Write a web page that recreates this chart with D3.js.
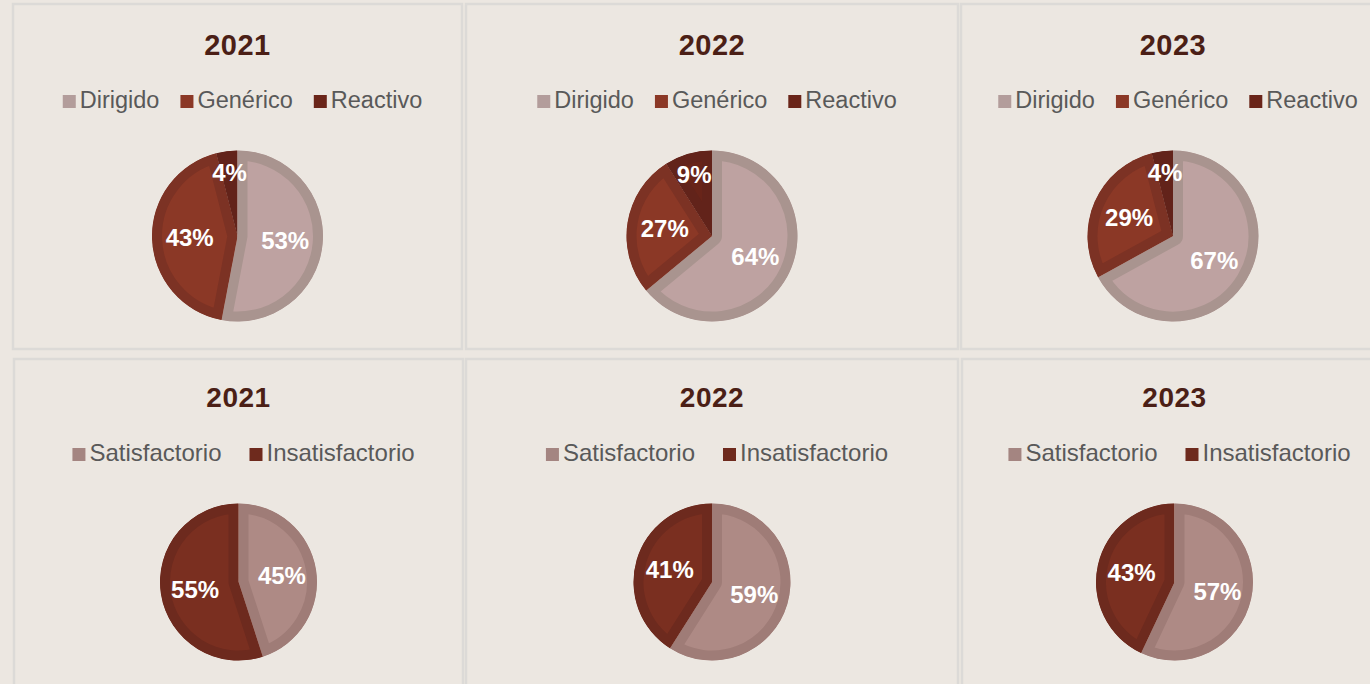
<!DOCTYPE html>
<html lang="es">
<head>
    <meta charset="UTF-8">
    <title>Pies 2021-2023</title>
    <style>
        body { margin: 0; background: #ece7e1; }
        svg { display: block; font-family: "Liberation Sans", Arial, sans-serif; }
    </style>
    <script src="https://d3js.org/d3.v7.min.js"></script>
</head>
<body>
    <svg width="1370" height="684"></svg>
    <script>
        // data
        const years = ["2021", "2022", "2023"];
        const typeCats = ["Dirigido", "Genérico", "Reactivo"];
        const typeVals = [[53, 43, 4], [64, 27, 9], [67, 29, 4]];
        const resultCats = ["Satisfactorio", "Insatisfactorio"];
        const resultVals = [[45, 55], [59, 41], [57, 43]];

        const typeFill = ["#bea2a1", "#8b3826", "#682419"];
        const typeEdge = ["#a9948f", "#7c3224", "#62231a"];
        const typeKey = ["#b39d9b", "#8b3826", "#6a2519"];
        const resultFill = ["#ae8a85", "#7a2f20"];
        const resultEdge = ["#9f7c77", "#6d2a1e"];
        const resultKey = ["#a48581", "#6e2a1d"];

        const svg = d3.select("svg");

        // panel boxes
        const rows = [
            { y: 4, h: 345, xs: [[13, 462], [466, 958], [961, 1385]], cy: 236, r: 85.5,
              titleY: 55, titleSize: 29, legY: 108, legGap: 21, legSize: 23.5, cats: typeCats, vals: typeVals,
              fill: typeFill, edge: typeEdge, key: typeKey },
            { y: 359, h: 340, xs: [[14, 463], [466, 958], [962, 1387]], cy: 582, r: 78.5,
              titleY: 407, titleSize: 28, legY: 461, legGap: 28, legSize: 24, cats: resultCats, vals: resultVals,
              fill: resultFill, edge: resultEdge, key: resultKey }
        ];

        const pie = d3.pie().sort(null).value(d => d);
        let clipId = 0;

        rows.forEach(row => {
            row.xs.forEach((px, i) => {
                const cx = (px[0] + px[1]) / 2;
                svg.append("rect")
                    .attr("x", px[0]).attr("y", row.y)
                    .attr("width", px[1] - px[0]).attr("height", row.h)
                    .attr("fill", "#ece7e1")
                    .attr("stroke", "#dcdad7")
                    .attr("stroke-width", 2.5);

                svg.append("text")
                    .attr("x", cx).attr("y", row.titleY)
                    .attr("text-anchor", "middle")
                    .attr("font-size", row.titleSize)
                    .attr("font-weight", "bold")
                    .attr("letter-spacing", 0.5)
                    .attr("fill", "#4b1f16")
                    .text(years[i]);

                // legend, measured then centred
                const leg = svg.append("g");
                let x = 0;
                row.cats.forEach((c, j) => {
                    leg.append("rect")
                        .attr("x", x).attr("y", row.legY - 13)
                        .attr("width", 13).attr("height", 13)
                        .attr("fill", row.key[j]);
                    const t = leg.append("text")
                        .attr("x", x + 17).attr("y", row.legY)
                        .attr("font-size", row.legSize)
                        .attr("fill", "#595959")
                        .text(c);
                    x += 17 + t.node().getComputedTextLength() + row.legGap;
                });
                const legW = x - row.legGap;
                leg.attr("transform", `translate(${cx + 5 - legW / 2},0)`);

                // pie
                const g = svg.append("g").attr("transform", `translate(${cx},${row.cy})`);
                const arc = d3.arc().innerRadius(0).outerRadius(row.r);
                const arcs = pie(row.vals[i]);
                arcs.forEach((a, j) => {
                    const id = "clip" + (clipId++);
                    g.append("clipPath").attr("id", id)
                        .append("path").attr("d", arc(a));
                    g.append("path")
                        .attr("d", arc(a))
                        .attr("fill", row.fill[j])
                        .attr("stroke", row.edge[j])
                        .attr("stroke-width", 20)
                        .attr("stroke-linejoin", "round")
                        .attr("clip-path", `url(#${id})`);
                });
                arcs.forEach(a => {
                    const share = a.value / d3.sum(row.vals[i]);
                    const lr = row.r * (share < 0.1 ? 0.75 : 0.56);
                    const pos = d3.arc().innerRadius(lr).outerRadius(lr).centroid(a);
                    g.append("text")
                        .attr("x", pos[0]).attr("y", pos[1])
                        .attr("dy", "0.36em")
                        .attr("text-anchor", "middle")
                        .attr("font-size", 24)
                        .attr("font-weight", "bold")
                        .attr("fill", "#ffffff")
                        .text(a.value + "%");
                });
            });
        });
    </script>
</body>
</html>
